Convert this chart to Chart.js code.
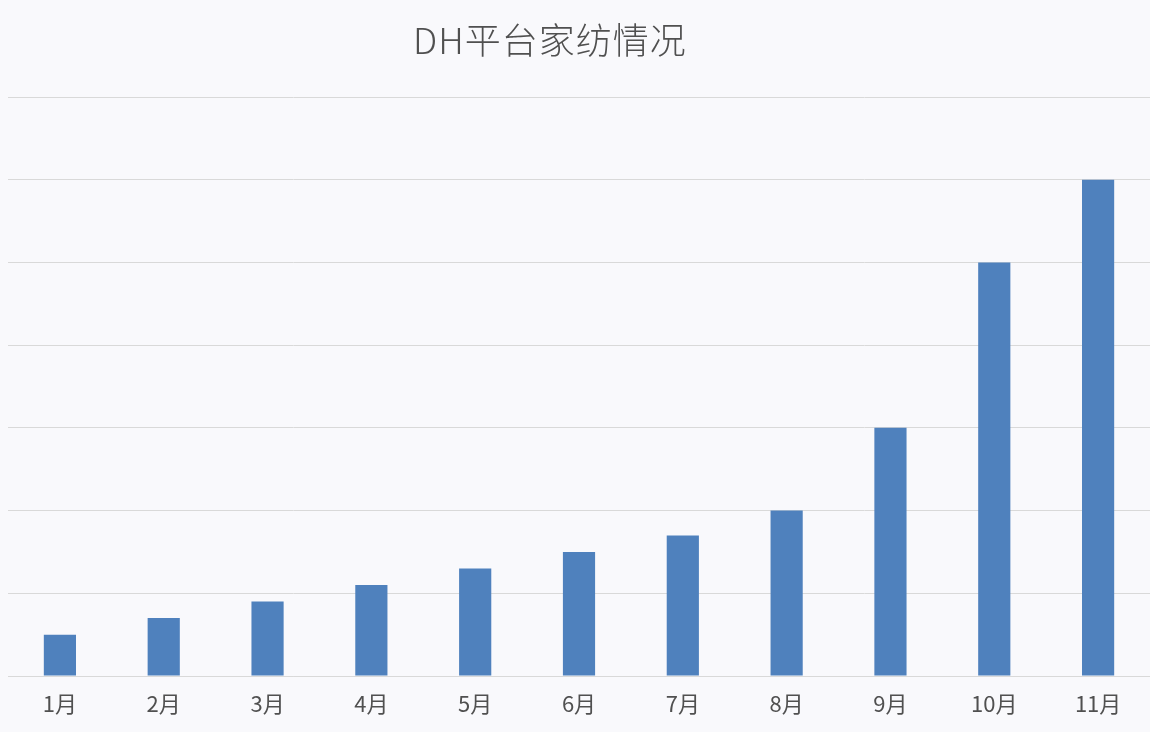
<!DOCTYPE html>
<html>
<head>
<meta charset="utf-8">
<script src="https://cdn.jsdelivr.net/npm/chart.js@4/dist/chart.umd.min.js"></script>
<style>
  html, body { margin: 0; padding: 0; background: #f9f9fc; }
  #wrap { width: 1150px; height: 732px; position: relative; }
  #title {
    position: absolute; left: 0; top: 16px; width: 1100px;
    text-align: center; color: #505050;
    font: 300 36px "Noto Sans CJK SC", "Liberation Sans", sans-serif;
    line-height: 44px; letter-spacing: 1px;
  }
</style>
</head>
<body>
<div id="wrap">
  <div id="title"></div>
  <canvas id="chart"></canvas>
</div>
<script>
// data (one gridline = 1 unit)
const months = ['1月', '2月', '3月', '4月', '5月', '6月', '7月', '8月', '9月', '10月', '11月'];
const sales = [0.5, 0.7, 0.9, 1.1, 1.3, 1.5, 1.7, 2, 3, 5, 6];
const titleText = 'DH平台家纺情况';

const fontFamily = '"Noto Sans CJK SC", "Liberation Sans", sans-serif';

// title sits a bit left of centre in the original, so it is placed as a text block
document.getElementById('title').textContent = titleText;

const ctx = document.getElementById('chart').getContext('2d');
const chart = new Chart(ctx, {
    type: 'bar',
    data: {
        labels: months,
        datasets: [{
            label: '家纺',
            data: sales,
            backgroundColor: '#4f81bd',
            barPercentage: 0.31,
            categoryPercentage: 1.0
        }]
    },
    options: {
        responsive: true,
        maintainAspectRatio: false,
        animation: false,
        layout: { padding: { left: 8, right: 0, top: 97, bottom: 0 } },
        plugins: {
            legend: { display: false },
            tooltip: { enabled: false },
            title: { display: false }
        },
        scales: {
            x: {
                grid: { display: false, drawTicks: false },
                border: { display: true, color: '#d9d9d9' },
                ticks: {
                    color: '#505050',
                    padding: 17,
                    font: { family: fontFamily, size: 22, lineHeight: 1 }
                }
            },
            y: {
                min: 0,
                max: 7,
                ticks: { display: false, stepSize: 1 },
                grid: { color: '#d9d9d9', drawTicks: false },
                border: { display: false }
            }
        }
    }
});
</script>
</body>
</html>
